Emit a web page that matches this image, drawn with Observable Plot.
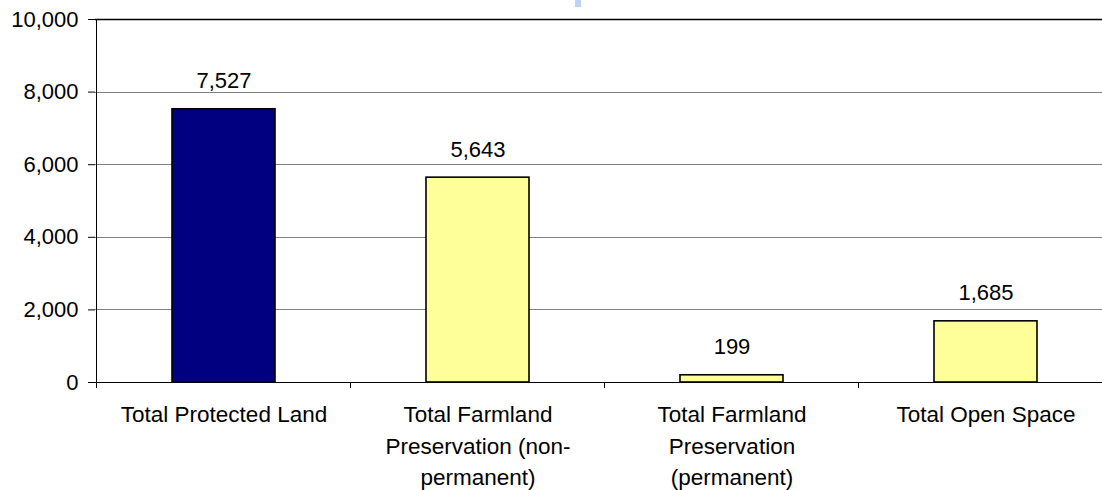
<!DOCTYPE html>
<html><head><meta charset="utf-8">
<script src="https://cdn.jsdelivr.net/npm/d3@7"></script>
<script src="https://cdn.jsdelivr.net/npm/@observablehq/plot@0.6"></script>
<style>
html,body{margin:0;padding:0;background:#fff;}
#chart{position:relative;width:1102px;height:490px;overflow:hidden;}
#chip{position:absolute;left:575px;top:0;width:6px;height:7px;background:#b9d5f3;}
</style></head><body>
<div id="chart"><div id="chip"></div></div>
<script>
const categories = ["Total Protected Land", "Total Farmland Preservation (non-permanent)", "Total Farmland Preservation (permanent)", "Total Open Space"];
const categoryLabels = ["Total Protected Land", "Total Farmland\nPreservation (non-\npermanent)", "Total Farmland\nPreservation\n(permanent)", "Total Open Space"];
const values = [7527, 5643, 199, 1685];
const barColors = ["#000080", "#FFFF99", "#FFFF99", "#FFFF99"];
const yTicks = [0, 2000, 4000, 6000, 8000, 10000];

const data = categories.map((c, i) => ({category: c, value: values[i], color: barColors[i]}));
const labelOf = new Map(categories.map((c, i) => [c, categoryLabels[i]]));
const fmt = d3.format(",");
const font = "'Liberation Sans', Arial, sans-serif";
const yMax = yTicks[yTicks.length - 1];

// band-edge category ticks and left axis line, drawn through the plot's scales
const frameLines = (index, scales) => {
  const x = scales.x, y = scales.y;
  const bw = typeof x.bandwidth === "function" ? x.bandwidth() : 0;
  const step = typeof x.step === "function" ? x.step() : (x(categories[1]) - x(categories[0]));
  const edge = c => x(c) - (step - bw) / 2;
  const g = d3.create("svg:g").attr("stroke", "black").attr("stroke-width", 1).attr("fill", "none");
  const x0 = edge(categories[0]);
  g.append("line").attr("x1", x0).attr("x2", x0).attr("y1", y(0)).attr("y2", y(yMax)).attr("shape-rendering", "crispEdges");
  for (const c of categories) {
    const ex = edge(c);
    g.append("line").attr("x1", ex).attr("x2", ex).attr("y1", y(0)).attr("y2", y(0) + 6).attr("shape-rendering", "crispEdges");
  }
  return g.node();
};

const chart = Plot.plot({
  width: 1102,
  height: 490,
  marginTop: 19,
  marginBottom: 108,
  marginLeft: 95,
  marginRight: 0,
  style: {fontFamily: font, fontSize: "22px", color: "black", background: "white", overflow: "visible"},
  x: {domain: categories, range: [95, 1113], paddingInner: 0.595, paddingOuter: 0.2975, label: null},
  y: {domain: [0, yMax], label: null},
  color: {type: "identity"},
  marks: [
    Plot.ruleY(yTicks.filter(t => t > 0 && t < yMax), {stroke: "#808080", strokeWidth: 1, shapeRendering: "crispEdges"}),
    Plot.ruleY([yMax], {stroke: "black", strokeWidth: 1.6}),
    Plot.barY(data, {x: "category", y: "value", fill: "color", stroke: "black", strokeWidth: 1.6}),
    Plot.ruleY([0], {stroke: "black", strokeWidth: 1, shapeRendering: "crispEdges"}),
    frameLines,
    Plot.text(data, {x: "category", y: "value", text: d => fmt(d.value), dy: -21, lineAnchor: "bottom", fontSize: 22, fill: "black"}),
    Plot.axisY({ticks: yTicks, tickFormat: d => fmt(d), tickSize: 7, tickPadding: 10, fontSize: 22, label: null, stroke: "black", fill: "black"}),
    Plot.axisX({tickSize: 0, tickPadding: 17, fontSize: 22.5, lineHeight: 1.41, tickFormat: c => labelOf.get(c), label: null, fill: "black"})
  ]
});
document.getElementById("chart").appendChild(chart);
</script>
</body></html>
